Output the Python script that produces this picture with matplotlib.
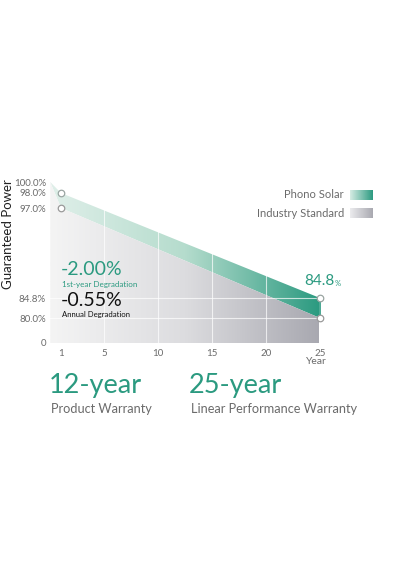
import numpy as np
import matplotlib.pyplot as plt
from matplotlib.colors import LinearSegmentedColormap

plt.rcParams['font.family'] = ['Lato', 'DejaVu Sans']

# data
years = [0, 1, 25]
phono = [100.0, 98.0, 84.8]
industry = [100.0, 97.0, 80.0]
marker_years = [1, 25]
phono_marks = [98.0, 84.8]
industry_marks = [97.0, 80.0]
x_ticks = [1, 5, 10, 15, 20, 25]
y_ticks = [0, 80.0, 84.8, 97.0, 98.0, 100.0]
y_labels = ['0', '80.0%', '84.8%', '97.0%', '98.0%', '100.0%']

# the picture uses an uneven vertical scale, keep it via FuncScale
scale_vals = [0, 80.0, 84.8, 97.0, 98.0, 100.0]
scale_pos = [0, 25, 45, 135, 150, 161]

def fwd(v):
    return np.interp(v, scale_vals, scale_pos)

def inv(h):
    return np.interp(h, scale_pos, scale_vals)

teal = '#2b9a80'
grey_txt = '#6b6b6b'

fig = plt.figure(figsize=(4, 5.7), dpi=100)
ax = fig.add_axes([50 / 400, (570 - 343) / 570, 280 / 400, 161 / 570])
ax.set_yscale('function', functions=(fwd, inv))
ax.set_xlim(-0.02, 25.93)
ax.set_ylim(0, 100)

green_cmap = LinearSegmentedColormap.from_list('g', ['#dfefe9', '#b5dccd', teal])
grey_cmap = LinearSegmentedColormap.from_list('k', ['#f4f4f4', '#dcdcdf', '#a8a8b0'])
grad = np.linspace(0, 1, 256).reshape(1, -1)

p_green = ax.fill_between(years, industry, phono, color='none', lw=0)
p_grey = ax.fill_between(years, 0, industry, color='none', lw=0)

for poly, cm in [(p_green, green_cmap), (p_grey, grey_cmap)]:
    im = ax.imshow(grad, cmap=cm, extent=(0, 25, 0, 1), aspect='auto',
                   transform=ax.get_xaxis_transform(), zorder=1)
    im.set_clip_path(poly.get_paths()[0], transform=ax.transData)

# white grid lines over the fills
for xv in [5, 10, 15, 20]:
    ax.plot([xv, xv], [0, 100], color='white', lw=0.8, alpha=0.7, zorder=2)
for yv in [80.0, 84.8]:
    ax.plot([0, 25], [yv, yv], color='white', lw=0.8, alpha=0.7, zorder=2)
ax.plot([25, 25], [industry[-1], phono[-1]], color=teal, lw=1.2, zorder=3)

ax.scatter(marker_years, phono_marks, s=22, facecolor='white', edgecolor='#9aa5a2',
           lw=0.9, zorder=4, clip_on=False)
ax.scatter(marker_years, industry_marks, s=22, facecolor='white', edgecolor='#9a9a9a',
           lw=0.9, zorder=4, clip_on=False)

for s in ax.spines.values():
    s.set_visible(False)
ax.set_xticks(x_ticks)
ax.set_xticklabels([str(v) for v in x_ticks])
ax.set_yticks(y_ticks)
ax.set_yticklabels(y_labels)
ax.tick_params(length=0, labelsize=7, labelcolor=grey_txt, pad=3)
ax.tick_params(axis='x', pad=4)

fig.text(8 / 400, 1 - 234 / 570, 'Guaranteed Power', rotation=90, fontsize=9.5,
         color='#222222', ha='center', va='center')

fig.text(304 / 400, 1 - 281 / 570, '84.8', color=teal, fontsize=11, ha='left', va='center')
fig.text(335 / 400, 1 - 283 / 570, '%', color=teal, fontsize=5.5, ha='left', va='center')
fig.text(316 / 400, 1 - 361 / 570, 'Year', color=grey_txt, fontsize=7.5, ha='center', va='center')

# annotation text
fig.text(61 / 400, 1 - 270 / 570, '-2.00%', color=teal, fontsize=14, va='center')
fig.text(62 / 400, 1 - 285 / 570, '1st-year Degradation', color=teal, fontsize=5.8, va='center')
fig.text(61 / 400, 1 - 300 / 570, '-0.55%', color='#111111', fontsize=14, va='center')
fig.text(62 / 400, 1 - 315 / 570, 'Annual Degradation', color='#111111', fontsize=5.6, va='center')

# legend
fig.text(344 / 400, 1 - 195 / 570, 'Phono Solar', color=grey_txt, fontsize=8, ha='right', va='center')
fig.text(344 / 400, 1 - 213 / 570, 'Industry Standard', color=grey_txt, fontsize=8, ha='right', va='center')
lax1 = fig.add_axes([350 / 400, 1 - 200 / 570, 23 / 400, 10 / 570])
lax1.imshow(grad, cmap=LinearSegmentedColormap.from_list('lg', ['#d6ece4', teal]), aspect='auto')
lax1.axis('off')
lax2 = fig.add_axes([350 / 400, 1 - 218 / 570, 23 / 400, 10 / 570])
lax2.imshow(grad, cmap=LinearSegmentedColormap.from_list('lk', ['#ececee', '#a8a8b0']), aspect='auto')
lax2.axis('off')

# bottom warranty text
fig.text(49 / 400, 1 - 386 / 570, '12-year', color=teal, fontsize=19.5, va='center')
fig.text(51 / 400, 1 - 409 / 570, 'Product Warranty', color=grey_txt, fontsize=9.2, va='center')
fig.text(189 / 400, 1 - 386 / 570, '25-year', color=teal, fontsize=19.5, va='center')
fig.text(191 / 400, 1 - 409 / 570, 'Linear Performance Warranty', color=grey_txt, fontsize=9.2, va='center')

fig.savefig('out.png', dpi=100)
